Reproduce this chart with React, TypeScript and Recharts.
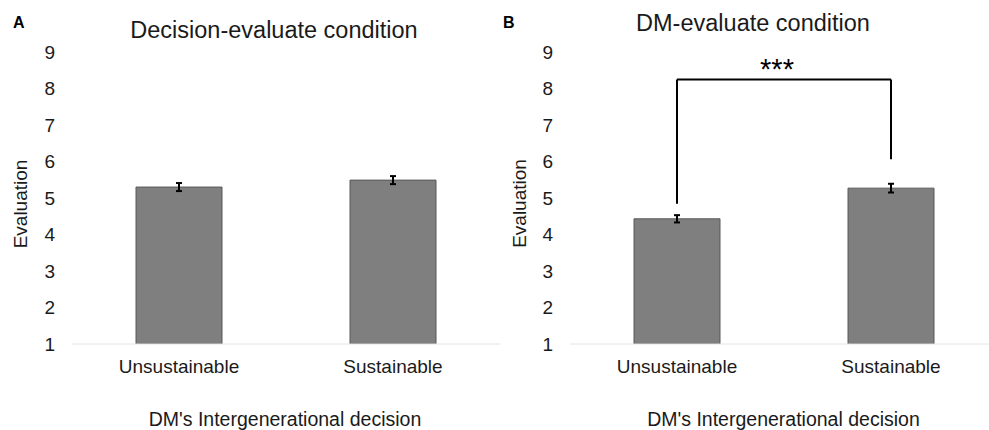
import React from 'react';
import { BarChart, Bar, XAxis, YAxis, ErrorBar, ReferenceLine } from 'recharts';

const categories = ['Unsustainable', 'Sustainable'];
const decisionEvalMeans = [5.3, 5.49];
const decisionEvalErrors = [0.11, 0.11];
const dmEvalMeans = [4.43, 5.27];
const dmEvalErrors = [0.1, 0.12];
const yTicks = [1, 2, 3, 4, 5, 6, 7, 8, 9];

// significance bracket in panel B (y values)
const bracketTop = 8.25;
const bracketLeftEnd = 4.84;
const bracketRightEnd = 6.06;

const FONT = '"Liberation Sans", Arial, sans-serif';

const toRows = (means: number[], errs: number[]) =>
  categories.map((c, i) => ({ name: c, value: means[i], err: errs[i] }));

const decisionData = toRows(decisionEvalMeans, decisionEvalErrors);
const dmData = toRows(dmEvalMeans, dmEvalErrors);

const tickStyle = { fontSize: 19, fill: '#1a1a1a', fontFamily: FONT };

interface PanelProps {
  data: { name: string; value: number; err: number }[];
  width: number;
  axisWidth: number;
  children?: React.ReactNode;
}

const Panel: React.FC<PanelProps> = ({ data, width, axisWidth, children }) => (
  <BarChart
    width={width}
    height={430}
    data={data}
    margin={{ top: 52, right: 0, bottom: 0, left: 0 }}
    barSize={86}
  >
    <XAxis
      dataKey="name"
      height={86}
      axisLine={{ stroke: '#e4e4e4', strokeWidth: 1 }}
      tickLine={false}
      tickSize={0}
      tickMargin={16}
      tick={tickStyle}
      interval={0}
    />
    <YAxis
      domain={[1, 9]}
      ticks={yTicks}
      width={axisWidth}
      axisLine={false}
      tickLine={false}
      tickSize={0}
      tickMargin={17}
      tick={tickStyle}
      allowDataOverflow
    />
    <Bar dataKey="value" fill="#7f7f7f" stroke="#595959" strokeWidth={1} isAnimationActive={false}>
      <ErrorBar dataKey="err" width={3} strokeWidth={2} stroke="#000" isAnimationActive={false} />
    </Bar>
    {children}
  </BarChart>
);

const App: React.FC = () => {
  const bracketLine = { stroke: '#000', strokeWidth: 2, ifOverflow: 'visible' as const };
  return (
    <div
      style={{
        position: 'fixed',
        left: 0,
        top: 0,
        width: 989,
        height: 430,
        overflow: 'hidden',
        background: '#fff',
        fontFamily: FONT,
      }}
    >
      <div style={{ position: 'absolute', left: 0, top: 0 }}>
        <Panel data={decisionData} width={500} axisWidth={72} />
      </div>
      <div style={{ position: 'absolute', left: 494, top: 0 }}>
        <Panel data={dmData} width={504} axisWidth={76}>
          <ReferenceLine
            {...bracketLine}
            segment={[
              { x: categories[0], y: bracketTop },
              { x: categories[1], y: bracketTop },
            ]}
          />
          <ReferenceLine
            {...bracketLine}
            segment={[
              { x: categories[0], y: bracketLeftEnd },
              { x: categories[0], y: bracketTop },
            ]}
          />
          <ReferenceLine
            {...bracketLine}
            segment={[
              { x: categories[1], y: bracketRightEnd },
              { x: categories[1], y: bracketTop },
            ]}
          />
        </Panel>
      </div>
      <svg
        width={989}
        height={430}
        style={{ position: 'absolute', left: 0, top: 0, pointerEvents: 'none' }}
        fontFamily={FONT}
        fill="#1a1a1a"
      >
        <text x={13} y={27.5} fontSize={16} fontWeight="bold" fill="#000">A</text>
        <text x={503} y={28} fontSize={16} fontWeight="bold" fill="#000">B</text>
        <text x={274} y={37.5} fontSize={23.5} textAnchor="middle">Decision-evaluate condition</text>
        <text x={753} y={31} fontSize={23.5} textAnchor="middle">DM-evaluate condition</text>
        <text x={777} y={79} fontSize={29} textAnchor="middle" fill="#000">***</text>
        <text transform="translate(26.5,204) rotate(-90)" fontSize={19} textAnchor="middle">Evaluation</text>
        <text transform="translate(525.5,203.5) rotate(-90)" fontSize={19} textAnchor="middle">Evaluation</text>
        <text x={285} y={426} fontSize={19.5} textAnchor="middle">DM's Intergenerational decision</text>
        <text x={783.5} y={426} fontSize={19.5} textAnchor="middle">DM's Intergenerational decision</text>
      </svg>
    </div>
  );
};

export default App;
